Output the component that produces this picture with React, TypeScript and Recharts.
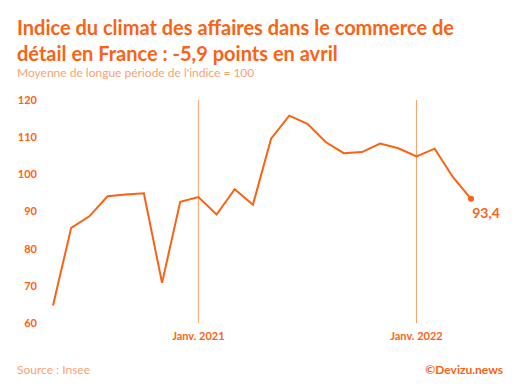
import { Line, LineChart, ReferenceLine, XAxis, YAxis } from "recharts";

const ORANGE = "#FA6214";
const LIGHT = "#F7A274";
const REF = "#FBA26C";
const FONT = "Lato, 'Noto Sans', sans-serif";

// Mensuel, mai 2020 -> avril 2022
const months = [
  "Mai 2020", "Juin 2020", "Juil. 2020", "Août 2020", "Sept. 2020", "Oct. 2020", "Nov. 2020", "Déc. 2020",
  "Janv. 2021", "Févr. 2021", "Mars 2021", "Avr. 2021", "Mai 2021", "Juin 2021", "Juil. 2021", "Août 2021",
  "Sept. 2021", "Oct. 2021", "Nov. 2021", "Déc. 2021",
  "Janv. 2022", "Févr. 2022", "Mars 2022", "Avr. 2022",
];
const indexValues = [
  64.7, 85.6, 88.7, 94.1, 94.6, 94.9, 70.8, 92.6,
  93.9, 89.2, 96.0, 91.8, 109.6, 115.8, 113.6, 108.7,
  105.7, 106.0, 108.3, 107.0,
  104.8, 106.9, 99.3, 93.4,
];
const yTicks = [60, 70, 80, 90, 100, 110, 120];
const xTicks = ["Janv. 2021", "Janv. 2022"];

const data = months.map((month, i) => ({ month, value: indexValues[i] }));
const lastIndex = data.length - 1;

function LastDot(props: any) {
  const { cx, cy, index, value } = props;
  if (index !== lastIndex) return <g key={`d-${index}`} />;
  const v = Array.isArray(value) ? value[1] : value;
  return (
    <g key={`d-${index}`}>
      <circle cx={cx} cy={cy} r={3} fill={ORANGE} />
      <text
        x={cx + 15}
        y={cy + 14}
        textAnchor="middle"
        dominantBaseline="central"
        fill={ORANGE}
        fontFamily={FONT}
        fontWeight={700}
        fontSize={14}
      >
        {String(v).replace(".", ",")}
      </text>
    </g>
  );
}

export default function App() {
  return (
    <div
      style={{
        position: "fixed",
        left: 0,
        top: 0,
        width: 520,
        height: 390,
        background: "#fff",
        fontFamily: FONT,
      }}
    >
      <div
        style={{
          position: "absolute",
          left: 17,
          top: 14,
          width: 500,
          color: ORANGE,
          fontWeight: 700,
          fontSize: 20,
          lineHeight: "26px",
        }}
      >
        Indice du climat des affaires dans le commerce de
        <br />
        détail en France : -5,9 points en avril
      </div>
      <div style={{ position: "absolute", left: 17, top: 65, color: LIGHT, fontSize: 12 }}>
        Moyenne de longue période de l'indice = 100
      </div>

      <div style={{ position: "absolute", left: 0, top: 0 }}>
        <LineChart
          width={520}
          height={390}
          data={data}
          margin={{ top: 100, right: 49, bottom: 37, left: 0 }}
        >
          <XAxis
            dataKey="month"
            height={30}
            interval={0}
            axisLine={false}
            tickLine={false}
            tickMargin={3}
            tickFormatter={(v) => (xTicks.includes(v) ? v : "")}
            tick={{ fill: ORANGE, fontSize: 11, fontWeight: 700, fontFamily: FONT }}
          />
          <YAxis
            width={53}
            domain={[60, 120]}
            ticks={yTicks}
            axisLine={false}
            tickLine={false}
            tickMargin={10}
            tick={{ fill: ORANGE, fontSize: 11, fontWeight: 700, fontFamily: FONT }}
          />
          {xTicks.map((t) => (
            <ReferenceLine key={t} x={t} stroke={REF} strokeWidth={1} />
          ))}
          <Line
            type="linear"
            dataKey="value"
            stroke={ORANGE}
            strokeWidth={2}
            dot={LastDot}
            activeDot={false}
            isAnimationActive={false}
          />
        </LineChart>
      </div>

      <div style={{ position: "absolute", left: 17, top: 362, color: LIGHT, fontSize: 12 }}>
        Source : Insee
      </div>
      <div
        style={{
          position: "absolute",
          right: 17,
          top: 362,
          color: ORANGE,
          fontSize: 12,
          fontWeight: 700,
        }}
      >
        ©Devizu.news
      </div>
    </div>
  );
}
